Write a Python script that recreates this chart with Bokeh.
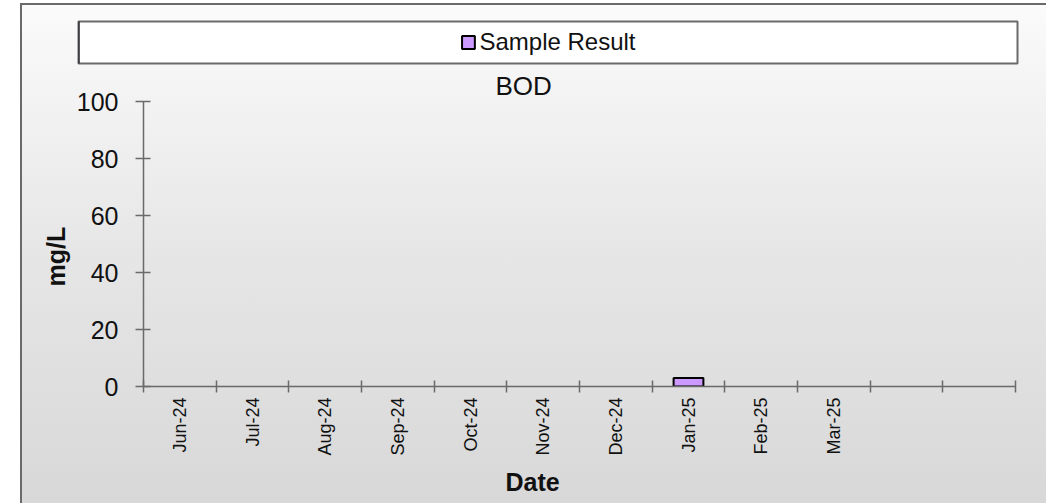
import math
from bokeh.plotting import figure
from bokeh.models import Range1d, FixedTicker, Legend, LegendItem, Title
from bokeh.embed import file_html
from bokeh.resources import INLINE

# ---- data ----
months = ["Jun-24", "Jul-24", "Aug-24", "Sep-24", "Oct-24", "Nov-24",
          "Dec-24", "Jan-25", "Feb-25", "Mar-25", "", ""]
sample_months = ["Jan-25"]
sample_values = [3.0]
y_ticks = [0, 20, 40, 60, 80, 100]
title_text = "BOD"
y_title = "mg/L"
x_title = "Date"
legend_label = "Sample Result"

# ---- layout ----
W, H = 1026, 500
FL, FR, FT, FB = 123, 995, 98, 383   # main frame, in figure pixels
NX = len(months)
YMAX = 100

FONT = "Liberation Sans"
AXIS_COLOR = "#6a6a6a"
TEXT_COLOR = "#111111"
BAR_FILL = "#CC99FF"

# ---- main chart ----
p = figure(width=W, height=H, output_backend="svg", toolbar_location=None,
           x_range=Range1d(0, NX), y_range=Range1d(0, YMAX),
           min_border_left=FL, min_border_right=W - FR,
           min_border_top=FT, min_border_bottom=H - FB,
           background_fill_color=None, border_fill_color=None,
           outline_line_color=None)
p.grid.visible = False
p.styles = {
    "position": "absolute", "left": "20px", "top": "3px", "z-index": "0",
    "background": "linear-gradient(to bottom, #fbfbfb 0%, #e6e6e6 50%, #d8d8d8 100%)",
    "box-shadow": "inset 2px 2px 0 #6a6a6a",
}

xa = p.xaxis[0]
xa.ticker = FixedTicker(ticks=[i + 0.5 for i in range(NX)],
                        minor_ticks=[i for i in range(NX + 1)])
xa.major_label_overrides = {i + 0.5: m for i, m in enumerate(months)}
xa.major_tick_in = 0
xa.major_tick_out = 0
xa.minor_tick_in = 6
xa.minor_tick_out = 6
xa.minor_tick_line_color = AXIS_COLOR
xa.minor_tick_line_width = 1.5
xa.axis_line_color = AXIS_COLOR
xa.axis_line_width = 1.5
xa.major_label_orientation = math.pi / 2
xa.major_label_standoff = 5
xa.major_label_text_font = FONT
xa.major_label_text_font_size = "18px"
xa.major_label_text_color = TEXT_COLOR

ya = p.yaxis[0]
ya.ticker = FixedTicker(ticks=y_ticks)
ya.major_tick_in = 7
ya.major_tick_out = 8
ya.major_tick_line_color = AXIS_COLOR
ya.major_tick_line_width = 1.5
ya.minor_tick_line_color = None
ya.axis_line_color = AXIS_COLOR
ya.axis_line_width = 1.5
ya.major_label_standoff = 17
ya.major_label_text_font = FONT
ya.major_label_text_font_size = "25px"
ya.major_label_text_color = TEXT_COLOR

p.vbar(x=[months.index(m) + 0.5 for m in sample_months], top=sample_values,
       bottom=0, width=0.41, fill_color=BAR_FILL, line_color="black",
       line_width=2)

p.add_layout(Title(text=title_text, align="left", offset=475 - FL,
                   standoff=2, text_font=FONT, text_font_size="26px",
                   text_font_style="normal", text_color=TEXT_COLOR), "above")
p.add_layout(Title(text=x_title, align="left", offset=485 - FL,
                   standoff=14, text_font=FONT, text_font_size="25px",
                   text_font_style="bold", text_color=TEXT_COLOR), "below")
p.add_layout(Title(text=y_title, align="left", offset=FB - 283,
                   standoff=7, text_font=FONT, text_font_size="25px",
                   text_font_style="bold", text_color=TEXT_COLOR), "left")

# ---- legend strip (its frame is the white legend box), laid over the chart ----
LEG_W, LEG_H = 1026, 64
lf = figure(width=LEG_W, height=LEG_H, output_backend="svg", toolbar_location=None,
            x_range=Range1d(0, 1), y_range=Range1d(0, 1),
            x_axis_type=None, y_axis_type=None,
            min_border_left=58, min_border_right=LEG_W - 997,
            min_border_top=18, min_border_bottom=LEG_H - 60,
            background_fill_color="white", border_fill_color=None,
            outline_line_color=AXIS_COLOR, outline_line_width=2)
lf.grid.visible = False
lf.styles = {"position": "absolute", "left": "20px", "top": "3px", "z-index": "1"}
# key renderer for the legend swatch (its point lies outside the strip's range)
key = lf.vbar(x=[-1.0], top=[1.0], bottom=0, width=0.41, fill_color=BAR_FILL,
              line_color="black", line_width=2)
legend = Legend(items=[LegendItem(label=legend_label, renderers=[key])],
                location="center", background_fill_alpha=0,
                border_line_color=None, padding=0, margin=0, spacing=0,
                glyph_width=16, glyph_height=16, label_standoff=4,
                label_height=16,
                label_text_font=FONT, label_text_font_size="24px",
                label_text_color=TEXT_COLOR)
lf.add_layout(legend, "center")

open("out.html", "w").write(file_html([p, lf], INLINE))
